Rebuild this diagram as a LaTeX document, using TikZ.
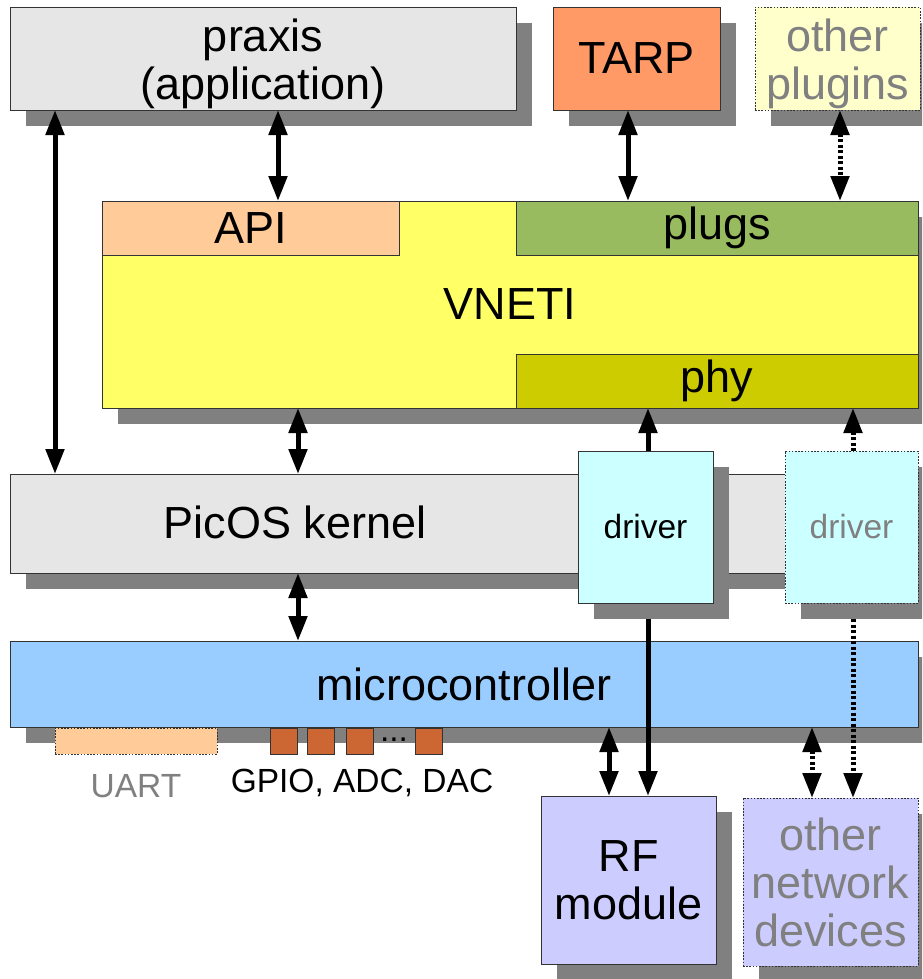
\documentclass[tikz,border=0pt]{standalone}
\usepackage{fontspec}
\setmainfont{Liberation Sans}
\usetikzlibrary{arrows.meta,shadows}
\newcommand\bigfs{\fontsize{45}{48}\selectfont}
\newcommand\midfs{\fontsize{33.5}{37}\selectfont}
\definecolor{cgray}{HTML}{E6E6E6}
\definecolor{ctarp}{HTML}{FF9966}
\definecolor{cplug}{HTML}{FFFFCC}
\definecolor{cvneti}{HTML}{FFFF66}
\definecolor{capi}{HTML}{FFCC99}
\definecolor{cplugs}{HTML}{99BB5F}
\definecolor{cphy}{HTML}{CCCC00}
\definecolor{cdrv}{HTML}{CCFFFF}
\definecolor{cmicro}{HTML}{99CCFF}
\definecolor{cgpio}{HTML}{CC6633}
\definecolor{crf}{HTML}{CCCCFF}
\definecolor{ctxt}{HTML}{808080}
\definecolor{cedge}{HTML}{333333}
\tikzset{
  box/.style={draw=cedge, line width=0.8pt, inner sep=0pt, outer sep=0pt, anchor=north west, font=\bigfs, align=center},
  shad/.style={drop shadow={shadow xshift=16pt, shadow yshift=-16pt, fill=black!50, opacity=1}},
  dotbox/.style={dash pattern=on 1.6pt off 1.6pt, text=ctxt},
  lab/.style={font=\bigfs, align=center, inner sep=0pt},
  conn/.style={line width=5pt},
  tipb/.style={{Triangle[length=25pt,width=18pt]}-{Triangle[length=25pt,width=18pt]}},
  tipe/.style={-{Triangle[length=25pt,width=18pt]}},
  dotl/.style={dash pattern=on 3pt off 2.5pt},
}
\begin{document}
\begin{tikzpicture}[x=1pt,y=-1pt]
\useasboundingbox (0,0) rectangle (922,979);
\clip (0,0) rectangle (922,979);
% top row
\node[box,shad,fill=cgray,minimum width=506pt,minimum height=103pt,
  label={[lab,yshift=-5pt]center:praxis\\(application)}] (praxis) at (10,7) {};
\node[box,shad,fill=ctarp,minimum width=167pt,minimum height=103pt] (tarp) at (553,7) {TARP};
\node[box,shad,dotbox,fill=cplug,minimum width=165pt,minimum height=103pt,
  label={[lab,text=ctxt,yshift=-5pt]center:other\\plugins}] (oplug) at (755,7) {};
% VNETI
\node[box,shad,fill=cvneti,minimum width=816pt,minimum height=207pt] (vneti) at (102,201) {VNETI};
\node[box,fill=capi,minimum width=297pt,minimum height=54pt] (api) at (102,201) {API};
\node[box,fill=cplugs,minimum width=402pt,minimum height=54pt] (plugs) at (516,201) {plugs};
\node[box,fill=cphy,minimum width=402pt,minimum height=54pt] (phy) at (516,354) {phy};
% kernel
\node[box,shad,fill=cgray,minimum width=895pt,minimum height=99pt] (kernel) at (10,474) {};
\node[font=\bigfs] (klabel) at (295,522) {PicOS kernel};
% drivers
\node[box,shad,fill=cdrv,font=\midfs,minimum width=135pt,minimum height=152pt] (drv) at (578,451) {driver};
\node[box,shad,dotbox,fill=cdrv,font=\midfs,minimum width=133pt,minimum height=152pt] (odrv) at (785,451) {driver};
% microcontroller
\node[box,shad,fill=cmicro,minimum width=908pt,minimum height=86pt] (micro) at (10,641) {microcontroller};
\node[box,dotbox,fill=capi,minimum width=162pt,minimum height=26pt] (uart) at (55,728) {};
\node[box,fill=cgpio,minimum width=27pt,minimum height=26pt] (g1) at (270,728) {};
\node[box,fill=cgpio,minimum width=27pt,minimum height=26pt] (g2) at (307,728) {};
\node[box,fill=cgpio,minimum width=27pt,minimum height=26pt] (g3) at (346,728) {};
\node[box,fill=cgpio,minimum width=27pt,minimum height=26pt] (g4) at (415,728) {};
\node[font=\midfs,inner sep=0pt] (gdots) at (394,740) {...};
\node[font=\midfs,text=ctxt] (uartl) at (136,786) {UART};
\node[font=\midfs] (gpiol) at (362,783) {GPIO, ADC, DAC};
% devices
\node[box,shad,fill=crf,minimum width=175pt,minimum height=168pt] (rf) at (541,796) {RF\\module};
\node[box,shad,dotbox,fill=crf,minimum width=175pt,minimum height=168pt] (onet) at (743,798) {other\\network\\devices};
% connectors
\draw[conn,tipb] ([xshift=45pt]praxis.south west) -- ([xshift=45pt]kernel.north west);
\draw[conn,tipb] ([xshift=268pt]praxis.south west) -- ([xshift=176pt]api.north west);
\draw[conn,tipb] ([xshift=75pt]tarp.south west) -- ([xshift=112pt]plugs.north west);
\draw[conn,dotl,tipb] ([xshift=85pt]oplug.south west) -- ([xshift=324pt]plugs.north west);
\draw[conn,tipb] ([xshift=196pt]vneti.south west) -- ([xshift=288pt]kernel.north west);
\draw[conn,tipe] ([xshift=70pt]drv.north west) -- ([xshift=132pt]phy.south west);
\draw[conn,dotl,tipe] ([xshift=68pt]odrv.north west) -- ([xshift=337pt]phy.south west);
\draw[conn,tipb] ([xshift=288pt]kernel.south west) -- ([xshift=288pt]micro.north west);
\draw[conn,tipe] ([xshift=70pt,yshift=-16pt]drv.south west) -- ([xshift=107pt]rf.north west);
\draw[conn,tipb] ([xshift=599pt]micro.south west) -- ([xshift=68pt]rf.north west);
\draw[conn,dotl,tipb] ([xshift=802pt]micro.south west) -- ([xshift=69pt]onet.north west);
\draw[conn,dotl,tipe] ([xshift=68pt,yshift=-16pt]odrv.south west) -- ([xshift=110pt]onet.north west);
\end{tikzpicture}
\end{document}
